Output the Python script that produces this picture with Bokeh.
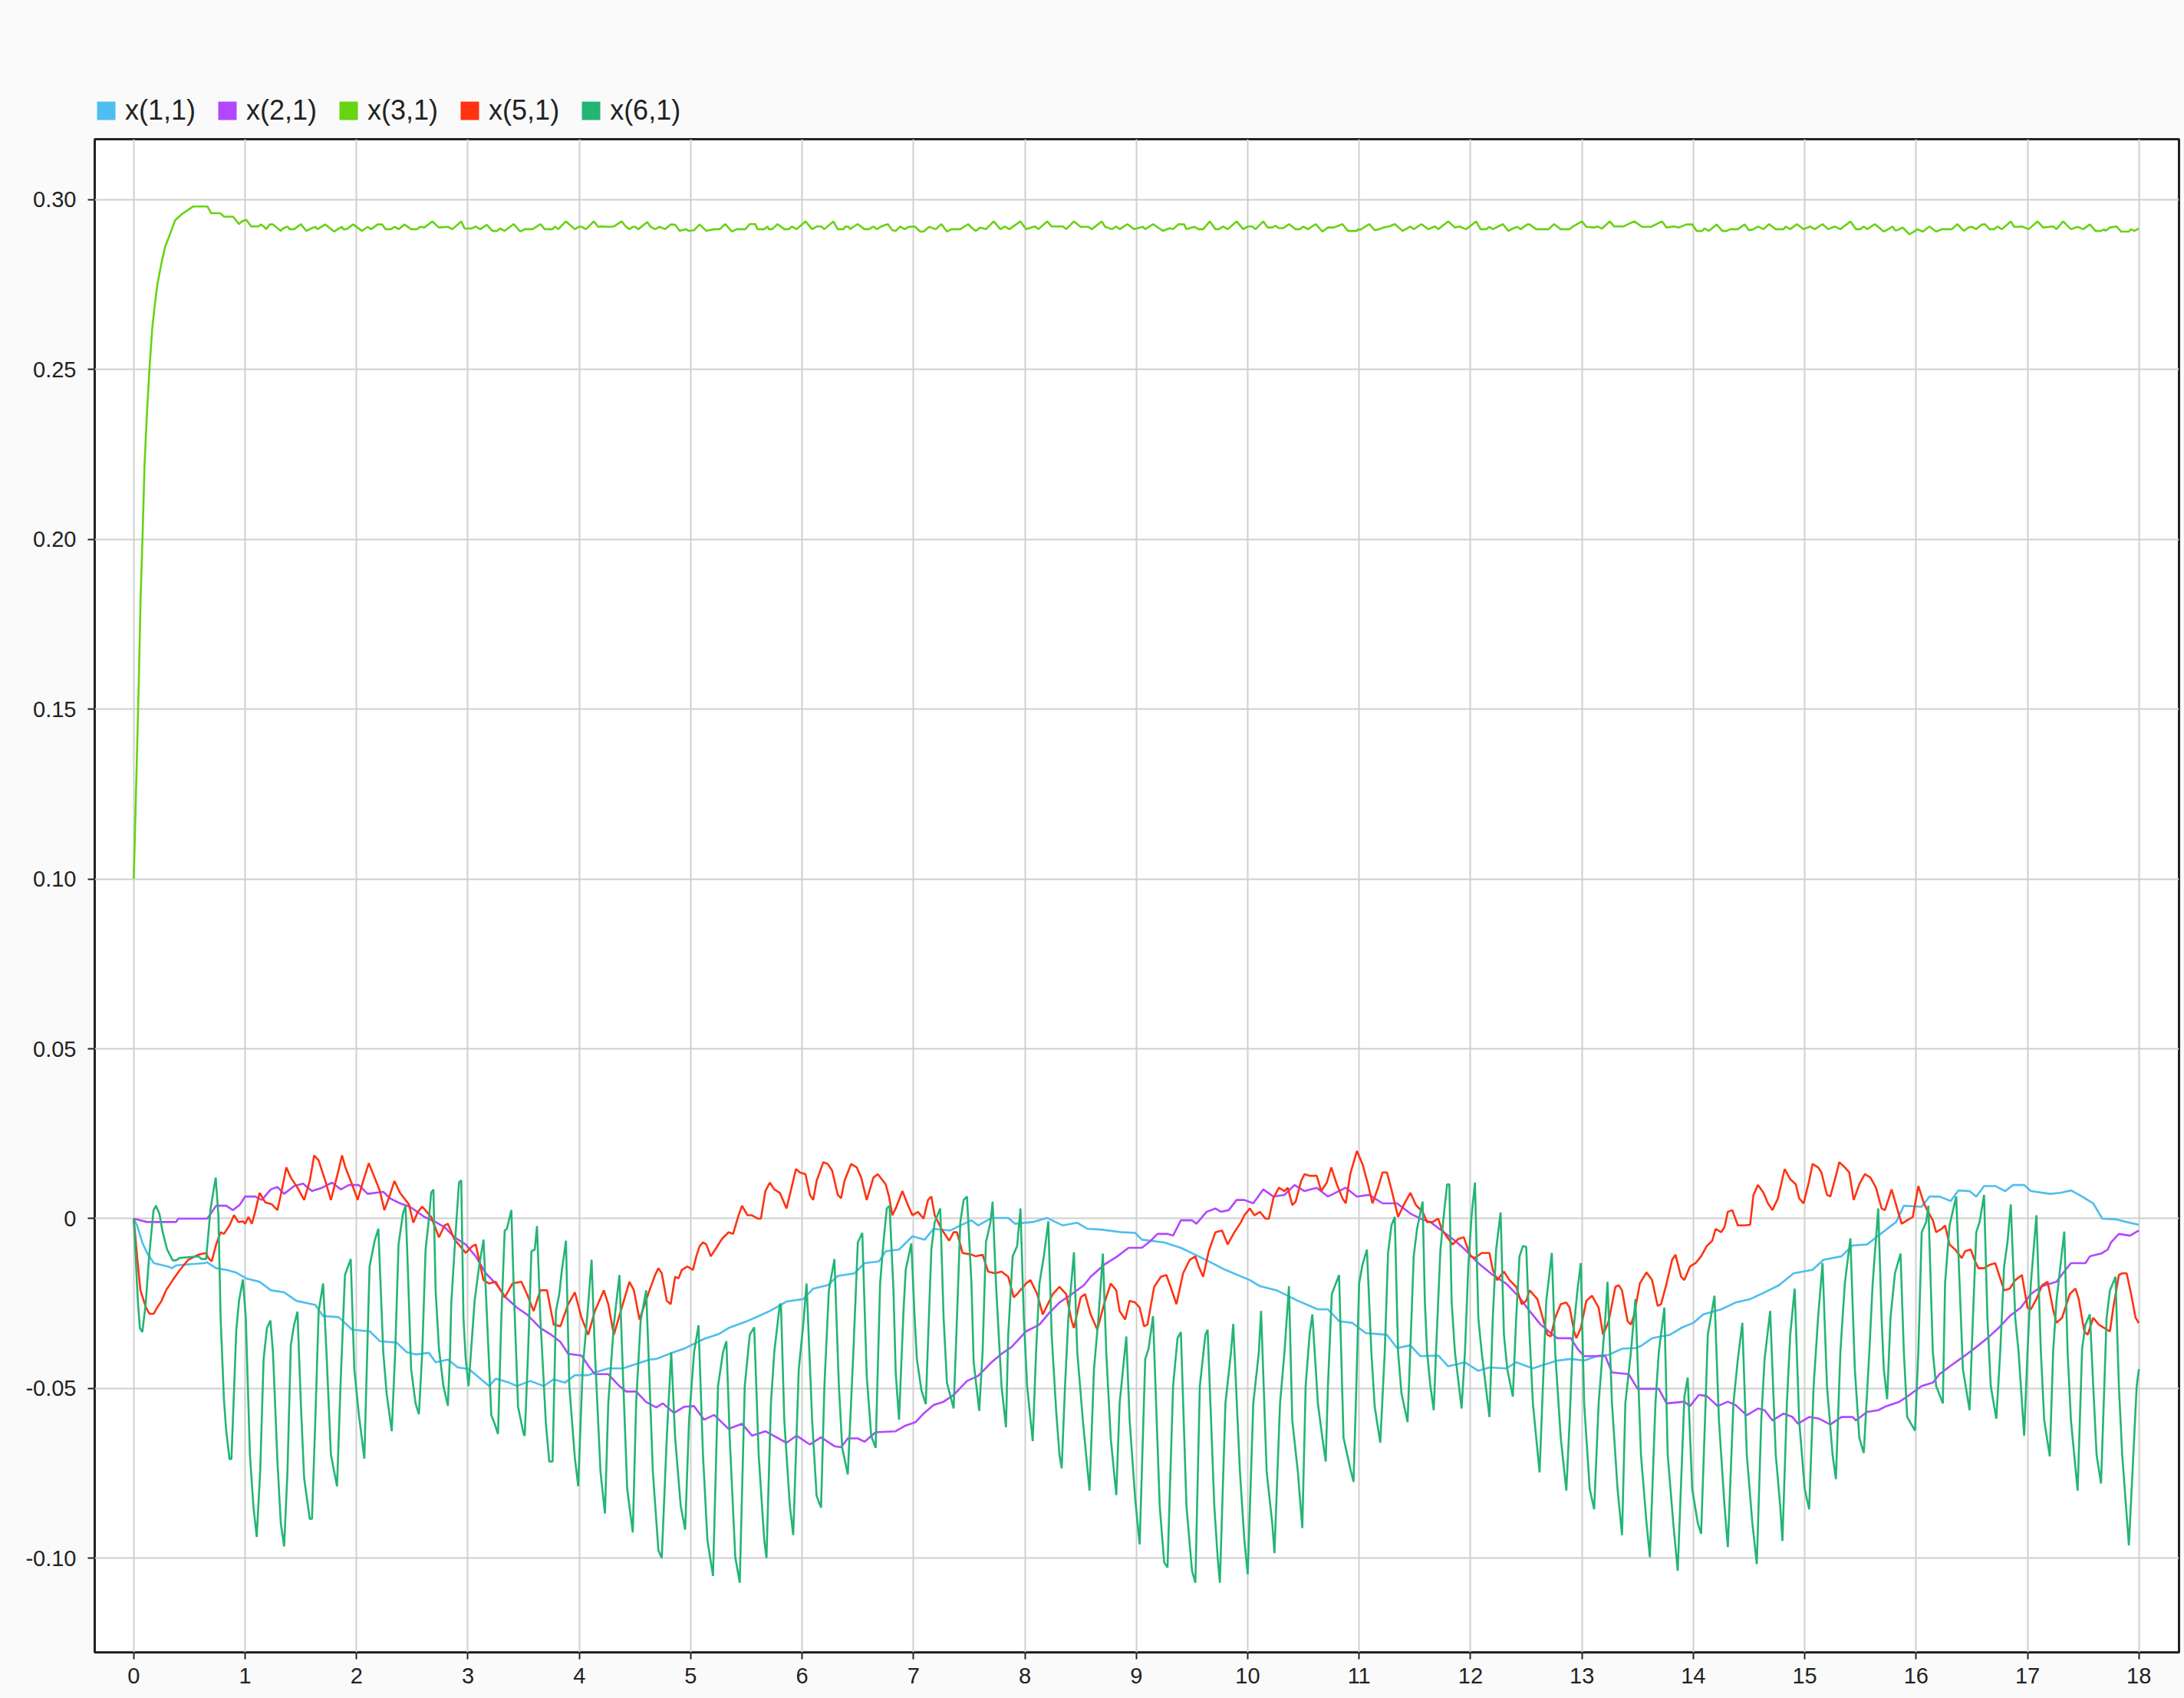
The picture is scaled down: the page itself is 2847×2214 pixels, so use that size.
from bokeh.plotting import figure
from bokeh.layouts import column
from bokeh.models import Range1d, FixedTicker, Legend, LegendItem
from bokeh.embed import file_html
from bokeh.resources import INLINE

series_labels = ["x(1,1)", "x(2,1)", "x(3,1)", "x(5,1)", "x(6,1)"]
x_ticks = list(range(0, 19))
y_ticks = [-0.10, -0.05, 0.0, 0.05, 0.10, 0.15, 0.20, 0.25, 0.30]
y_tick_labels = ["-0.10", "-0.05", "0", "0.05", "0.10", "0.15", "0.20", "0.25", "0.30"]

# (time, value) pairs
x11 = [(0,0),(0.03,-0.002),(0.077,-0.007),(0.12,-0.0101),(0.18,-0.0131),(0.31,-0.0141),(0.34,-0.0146),(0.38,-0.0138),(0.63,-0.0131),(0.66,-0.0129),(0.74,-0.0146),(0.83,-0.0151),(0.92,-0.0159),(1.01,-0.0176),(1.13,-0.0186),(1.23,-0.0211),(1.35,-0.0217),(1.46,-0.0242),(1.63,-0.0254),(1.70,-0.0287),(1.84,-0.029),(1.96,-0.0327),(2.12,-0.0332),(2.21,-0.0361),(2.36,-0.0365),(2.45,-0.0393),(2.53,-0.040),(2.65,-0.0395),(2.71,-0.0423),(2.82,-0.0415),(2.91,-0.0438),(3.01,-0.0443),(3.10,-0.0468),(3.19,-0.0493),(3.25,-0.0471),(3.37,-0.0483),(3.44,-0.0493),(3.56,-0.0478),(3.68,-0.0493),(3.77,-0.0473),(3.87,-0.0483),(3.96,-0.0461),(4.08,-0.0461),(4.14,-0.0453),(4.26,-0.0441),(4.39,-0.0441),(4.51,-0.0428),(4.63,-0.0415),(4.69,-0.0413),(4.85,-0.0393),(4.94,-0.0383),(5.12,-0.0354),(5.25,-0.034),(5.34,-0.0322),(5.49,-0.0304),(5.61,-0.0287),(5.71,-0.0272),(5.86,-0.0244),(6.01,-0.0237),(6.10,-0.0206),(6.23,-0.0196),(6.32,-0.0169),(6.47,-0.0161),(6.56,-0.0131),(6.69,-0.0126),(6.75,-0.0096),(6.87,-0.0091),(6.99,-0.0052),(7.10,-0.0062),(7.18,-0.003),(7.33,-0.0035),(7.42,-0.002),(7.52,-0.0005),(7.58,-0.002),(7.70,0.0002),(7.85,0.0002),(7.91,-0.0015),(8.07,-0.001),(8.20,0.0002),(8.34,-0.002),(8.47,-0.0012),(8.56,-0.003),(8.68,-0.0032),(8.87,-0.004),(8.99,-0.0042),(9.05,-0.0062),(9.25,-0.007),(9.40,-0.0086),(9.56,-0.0111),(9.71,-0.0136),(9.80,-0.0151),(10.02,-0.0181),(10.11,-0.0199),(10.26,-0.0211),(10.45,-0.0242),(10.63,-0.0267),(10.72,-0.0267),(10.82,-0.0302),(10.94,-0.0307),(11.06,-0.0337),(11.25,-0.0342),(11.34,-0.0381),(11.46,-0.0373),(11.55,-0.0405),(11.71,-0.0403),(11.80,-0.0435),(11.95,-0.0423),(12.07,-0.0448),(12.17,-0.0438),(12.32,-0.0441),(12.41,-0.0423),(12.56,-0.0441),(12.63,-0.0433),(12.78,-0.0418),(12.90,-0.0413),(13.02,-0.0418),(13.15,-0.0403),(13.24,-0.0401),(13.36,-0.0383),(13.48,-0.0381),(13.53,-0.0375),(13.63,-0.0352),(13.79,-0.0342),(13.89,-0.0322),(14.0,-0.0307),(14.09,-0.0282),(14.25,-0.0267),(14.38,-0.0247),(14.51,-0.0237),(14.64,-0.0217),(14.77,-0.0196),(14.90,-0.0161),(15.07,-0.0151),(15.17,-0.0121),(15.33,-0.0111),(15.43,-0.0079),(15.56,-0.0076),(15.72,-0.0035),(15.82,-0.001),(15.89,0.0038),(16.05,0.0035),(16.12,0.0065),(16.21,0.0065),(16.31,0.0052),(16.38,0.0083),(16.48,0.0081),(16.54,0.0065),(16.61,0.0096),(16.71,0.0096),(16.80,0.0081),(16.87,0.0099),(16.97,0.0099),(17.03,0.0081),(17.20,0.0073),(17.30,0.0076),(17.39,0.0083),(17.49,0.0065),(17.59,0.0045),(17.67,0.0),(17.79,-0.0002),(17.89,-0.001),(18.0,-0.0018)]

x21 = [(0,0),(0.12,-0.001),(0.38,-0.001),(0.40,0),(0.66,0),(0.74,0.0038),(0.83,0.0038),(0.89,0.0025),(0.95,0.004),(1.0,0.0065),(1.09,0.0065),(1.15,0.0055),(1.23,0.0086),(1.29,0.0093),(1.35,0.0073),(1.44,0.0096),(1.52,0.0103),(1.60,0.0081),(1.69,0.0091),(1.78,0.0106),(1.86,0.0086),(1.93,0.0099),(2.02,0.0099),(2.10,0.0073),(2.24,0.0079),(2.30,0.006),(2.39,0.0045),(2.48,0.0035),(2.61,0.0005),(2.71,-0.001),(2.79,-0.0025),(2.88,-0.0055),(2.98,-0.0076),(3.07,-0.0111),(3.16,-0.0161),(3.25,-0.0191),(3.34,-0.0232),(3.44,-0.0262),(3.53,-0.0282),(3.65,-0.0322),(3.74,-0.034),(3.83,-0.0363),(3.90,-0.0398),(4.02,-0.0403),(4.08,-0.0433),(4.14,-0.0458),(4.26,-0.0458),(4.36,-0.0493),(4.42,-0.0509),(4.51,-0.0509),(4.60,-0.054),(4.69,-0.0556),(4.75,-0.0544),(4.85,-0.0572),(4.94,-0.0554),(5.03,-0.0552),(5.12,-0.0592),(5.21,-0.0578),(5.34,-0.0619),(5.46,-0.0604),(5.55,-0.0639),(5.67,-0.0626),(5.86,-0.066),(5.95,-0.0639),(6.07,-0.0665),(6.17,-0.0644),(6.29,-0.067),(6.35,-0.0673),(6.41,-0.0647),(6.50,-0.0647),(6.56,-0.0657),(6.66,-0.0629),(6.84,-0.0626),(6.93,-0.0609),(7.02,-0.0599),(7.09,-0.0574),(7.18,-0.0549),(7.27,-0.0539),(7.36,-0.0519),(7.48,-0.0478),(7.58,-0.0463),(7.70,-0.0423),(7.79,-0.0398),(7.88,-0.0378),(8.01,-0.0332),(8.13,-0.0312),(8.22,-0.0277),(8.31,-0.0247),(8.40,-0.0227),(8.53,-0.0196),(8.59,-0.0171),(8.71,-0.0136),(8.83,-0.0111),(8.93,-0.0086),(9.05,-0.0086),(9.13,-0.0065),(9.19,-0.0045),(9.28,-0.0045),(9.33,-0.005),(9.40,-0.0005),(9.50,-0.0005),(9.54,-0.0015),(9.63,0.002),(9.71,0.003),(9.76,0.002),(9.83,0.0025),(9.90,0.0055),(9.97,0.0055),(10.05,0.0045),(10.14,0.0086),(10.23,0.0065),(10.33,0.007),(10.42,0.0099),(10.51,0.0081),(10.62,0.0091),(10.72,0.0065),(10.88,0.0091),(10.98,0.0065),(11.09,0.007),(11.21,0.0045),(11.34,0.0045),(11.46,0.0015),(11.55,0),(11.64,-0.001),(11.74,-0.0035),(11.86,-0.0065),(11.95,-0.0091),(12.07,-0.0131),(12.20,-0.0166),(12.32,-0.0191),(12.44,-0.0232),(12.53,-0.0272),(12.63,-0.0312),(12.72,-0.0337),(12.78,-0.0352),(12.90,-0.0352),(12.96,-0.0383),(13.02,-0.0405),(13.21,-0.0405),(13.27,-0.0453),(13.42,-0.0458),(13.50,-0.0501),(13.69,-0.0501),(13.76,-0.0544),(13.92,-0.0539),(13.97,-0.0552),(14.05,-0.0519),(14.12,-0.0522),(14.22,-0.0552),(14.31,-0.0539),(14.38,-0.0549),(14.48,-0.0579),(14.58,-0.0559),(14.64,-0.0564),(14.71,-0.0594),(14.81,-0.0574),(14.89,-0.0584),(14.94,-0.0604),(15.04,-0.0584),(15.13,-0.0589),(15.23,-0.0606),(15.33,-0.0584),(15.43,-0.0584),(15.46,-0.0594),(15.56,-0.0569),(15.66,-0.0564),(15.72,-0.0554),(15.85,-0.0539),(15.92,-0.0524),(16.05,-0.0493),(16.15,-0.0483),(16.21,-0.0458),(16.31,-0.0433),(16.44,-0.0403),(16.54,-0.0378),(16.64,-0.0352),(16.74,-0.0322),(16.84,-0.0287),(16.94,-0.0262),(17.03,-0.0222),(17.13,-0.0199),(17.26,-0.0186),(17.33,-0.0156),(17.39,-0.0131),(17.52,-0.0131),(17.56,-0.0111),(17.66,-0.0103),(17.72,-0.0091),(17.75,-0.007),(17.82,-0.0045),(17.92,-0.005),(18.0,-0.0035)]

x31 = [(0,0.100),(0.009,0.111),(0.028,0.135),(0.046,0.159),(0.062,0.183),(0.081,0.203),(0.097,0.222),(0.120,0.238),(0.143,0.251),(0.166,0.262),(0.189,0.269),(0.212,0.275),(0.247,0.281),(0.281,0.286),(0.327,0.290),(0.373,0.294),(0.442,0.296),(0.535,0.298),(0.604,0.298),(0.661,0.298),(0.696,0.296),(0.776,0.296),(0.811,0.295),(0.892,0.295),(0.945,0.2928),(0.97,0.2936),(1.01,0.2941),(1.055,0.2921),(1.12,0.2921),(1.14,0.2927),(1.17,0.292),(1.19,0.2913),(1.22,0.2927),(1.25,0.2927),(1.32,0.2908),(1.34,0.2915),(1.38,0.2921),(1.40,0.2913),(1.44,0.2913),(1.50,0.2928),(1.55,0.2908),(1.59,0.2915),(1.63,0.292),(1.65,0.2913),(1.72,0.2927),(1.80,0.2906),(1.83,0.2913),(1.87,0.292),(1.88,0.2913),(1.91,0.2913),(1.97,0.2927),(2.05,0.2908),(2.10,0.292),(2.13,0.2913),(2.19,0.2927),(2.23,0.2927),(2.26,0.2913),(2.31,0.2913),(2.34,0.292),(2.38,0.2913),(2.43,0.2927),(2.49,0.2913),(2.545,0.2913),(2.57,0.292),(2.61,0.2918),(2.68,0.2936),(2.74,0.2918),(2.82,0.292),(2.86,0.2913),(2.94,0.2936),(2.97,0.2915),(3.03,0.2915),(3.07,0.2921),(3.11,0.2913),(3.17,0.2926),(3.22,0.2908),(3.26,0.2908),(3.29,0.2915),(3.33,0.2908),(3.41,0.2928),(3.47,0.2906),(3.51,0.2913),(3.58,0.2913),(3.65,0.2928),(3.69,0.2913),(3.76,0.2913),(3.78,0.2921),(3.81,0.2913),(3.88,0.2936),(3.96,0.2913),(4.0,0.2921),(4.02,0.292),(4.06,0.2913),(4.13,0.2936),(4.17,0.292),(4.20,0.2921),(4.27,0.292),(4.31,0.2921),(4.38,0.2936),(4.42,0.292),(4.45,0.2913),(4.48,0.292),(4.50,0.292),(4.53,0.2913),(4.61,0.2934),(4.64,0.292),(4.68,0.2913),(4.72,0.292),(4.77,0.2913),(4.82,0.2927),(4.86,0.2926),(4.90,0.2908),(4.96,0.2913),(4.98,0.2908),(5.03,0.291),(5.08,0.2927),(5.14,0.2908),(5.21,0.2913),(5.26,0.2913),(5.31,0.2928),(5.37,0.2906),(5.41,0.2913),(5.49,0.2913),(5.53,0.2928),(5.58,0.2928),(5.60,0.2913),(5.66,0.2913),(5.69,0.2921),(5.70,0.2913),(5.73,0.2913),(5.78,0.2928),(5.84,0.2913),(5.88,0.2913),(5.91,0.2921),(5.95,0.2913),(6.03,0.2936),(6.09,0.2913),(6.13,0.2921),(6.17,0.2921),(6.20,0.2913),(6.28,0.2936),(6.32,0.2913),(6.37,0.2913),(6.39,0.2921),(6.42,0.292),(6.43,0.2913),(6.46,0.292),(6.50,0.2928),(6.56,0.2913),(6.60,0.2913),(6.64,0.2921),(6.67,0.2913),(6.71,0.2921),(6.77,0.2928),(6.81,0.291),(6.84,0.2908),(6.88,0.2921),(6.92,0.2913),(6.96,0.292),(7.01,0.2921),(7.06,0.2906),(7.09,0.2906),(7.14,0.292),(7.20,0.2913),(7.25,0.2928),(7.30,0.2906),(7.34,0.2913),(7.42,0.2913),(7.49,0.2928),(7.53,0.2915),(7.56,0.2908),(7.60,0.2918),(7.65,0.2913),(7.72,0.2936),(7.78,0.2913),(7.82,0.2921),(7.86,0.2913),(7.96,0.2936),(8.01,0.2913),(8.09,0.2921),(8.12,0.2913),(8.20,0.2936),(8.24,0.2921),(8.34,0.2921),(8.37,0.2913),(8.44,0.2936),(8.50,0.292),(8.57,0.292),(8.60,0.2913),(8.69,0.2936),(8.72,0.292),(8.78,0.2913),(8.82,0.2921),(8.85,0.2913),(8.92,0.2928),(8.98,0.2913),(9.06,0.292),(9.08,0.2913),(9.15,0.2928),(9.24,0.2908),(9.30,0.2916),(9.33,0.2913),(9.38,0.2928),(9.43,0.2927),(9.45,0.2913),(9.52,0.292),(9.56,0.2913),(9.60,0.2913),(9.66,0.2936),(9.71,0.2913),(9.74,0.2913),(9.78,0.2921),(9.82,0.2913),(9.90,0.2936),(9.96,0.2913),(10.0,0.2921),(10.04,0.2921),(10.07,0.2913),(10.14,0.2936),(10.18,0.2918),(10.22,0.2918),(10.25,0.2923),(10.28,0.2916),(10.32,0.2916),(10.37,0.2928),(10.43,0.2913),(10.47,0.2913),(10.50,0.2921),(10.54,0.2913),(10.61,0.2928),(10.67,0.2906),(10.72,0.2918),(10.77,0.2918),(10.80,0.2921),(10.85,0.2928),(10.90,0.2908),(10.98,0.2908),(10.99,0.2913),(11.01,0.2911),(11.09,0.2928),(11.14,0.291),(11.18,0.2913),(11.22,0.2918),(11.27,0.2921),(11.32,0.2928),(11.39,0.2908),(11.46,0.2921),(11.49,0.2913),(11.56,0.2928),(11.62,0.2913),(11.68,0.2921),(11.71,0.2913),(11.80,0.2936),(11.86,0.2918),(11.90,0.2921),(11.96,0.2913),(12.05,0.2936),(12.09,0.2913),(12.14,0.2913),(12.17,0.292),(12.20,0.2913),(12.29,0.2928),(12.34,0.2908),(12.38,0.2915),(12.42,0.292),(12.45,0.2913),(12.51,0.2927),(12.53,0.2927),(12.59,0.2913),(12.70,0.2913),(12.75,0.2928),(12.81,0.2913),(12.89,0.2913),(12.92,0.2921),(13.0,0.2936),(13.04,0.292),(13.11,0.2918),(13.14,0.2921),(13.18,0.2915),(13.25,0.2936),(13.29,0.2921),(13.37,0.2921),(13.47,0.2936),(13.54,0.292),(13.62,0.292),(13.72,0.2936),(13.76,0.2918),(13.83,0.2921),(13.87,0.2918),(13.94,0.2927),(13.99,0.2927),(14.03,0.2908),(14.08,0.2908),(14.10,0.2915),(14.14,0.2908),(14.21,0.2927),(14.26,0.2908),(14.30,0.2908),(14.33,0.2913),(14.40,0.2913),(14.46,0.2927),(14.50,0.291),(14.54,0.2913),(14.58,0.2921),(14.63,0.2913),(14.68,0.2928),(14.74,0.2913),(14.81,0.2913),(14.83,0.2921),(14.87,0.2913),(14.93,0.2928),(14.99,0.2913),(15.05,0.2921),(15.09,0.2913),(15.16,0.2928),(15.21,0.2913),(15.27,0.2921),(15.32,0.2913),(15.41,0.2936),(15.46,0.2913),(15.50,0.2913),(15.53,0.2921),(15.56,0.2913),(15.63,0.2928),(15.71,0.2906),(15.75,0.2913),(15.79,0.2921),(15.81,0.291),(15.83,0.291),(15.88,0.2918),(15.90,0.2911),(15.94,0.2898),(15.99,0.2908),(16.01,0.2913),(16.06,0.2906),(16.12,0.2921),(16.18,0.2906),(16.23,0.2913),(16.32,0.2913),(16.37,0.2928),(16.43,0.2908),(16.47,0.2918),(16.50,0.292),(16.54,0.2913),(16.59,0.2927),(16.62,0.2927),(16.66,0.2913),(16.70,0.2913),(16.73,0.2921),(16.77,0.2913),(16.85,0.2936),(16.88,0.292),(16.92,0.292),(16.95,0.2921),(17.01,0.2913),(17.09,0.2936),(17.14,0.2918),(17.23,0.2921),(17.26,0.2913),(17.32,0.2936),(17.39,0.2913),(17.45,0.292),(17.50,0.2913),(17.56,0.2927),(17.61,0.2908),(17.66,0.2908),(17.69,0.2913),(17.70,0.2908),(17.74,0.2918),(17.80,0.2921),(17.84,0.2906),(17.91,0.2906),(17.93,0.2913),(17.96,0.2908),(18.0,0.2915)]

x51 = [(0,0),(0.03,-0.0111),(0.06,-0.0211),(0.11,-0.0262),(0.14,-0.028),(0.18,-0.028),(0.21,-0.0262),(0.25,-0.0242),(0.29,-0.0211),(0.35,-0.0181),(0.41,-0.0153),(0.49,-0.0121),(0.58,-0.0106),(0.65,-0.0101),(0.67,-0.0116),(0.70,-0.0126),(0.74,-0.0076),(0.78,-0.004),(0.81,-0.0045),(0.86,-0.002),(0.90,0.001),(0.94,-0.001),(0.98,-0.0008),(1.0,-0.0015),(1.03,0.0005),(1.06,-0.0015),(1.09,0.002),(1.13,0.0076),(1.18,0.0048),(1.24,0.0042),(1.29,0.0025),(1.32,0.007),(1.37,0.0151),(1.41,0.0121),(1.47,0.0091),(1.53,0.0055),(1.58,0.0111),(1.62,0.0186),(1.66,0.0171),(1.72,0.0111),(1.77,0.0055),(1.83,0.0131),(1.87,0.0186),(1.90,0.0151),(1.96,0.0101),(2.01,0.0055),(2.06,0.0111),(2.11,0.0163),(2.15,0.0131),(2.21,0.0081),(2.25,0.0025),(2.30,0.007),(2.34,0.0111),(2.39,0.0076),(2.47,0.0042),(2.51,-0.0012),(2.55,0.002),(2.59,0.0035),(2.67,0.0005),(2.74,-0.0055),(2.79,-0.002),(2.82,-0.0015),(2.88,-0.0062),(2.91,-0.0073),(2.98,-0.0101),(3.04,-0.0081),(3.07,-0.0076),(3.14,-0.0181),(3.19,-0.0191),(3.25,-0.0186),(3.33,-0.0232),(3.40,-0.0191),(3.48,-0.0186),(3.53,-0.0222),(3.59,-0.0272),(3.65,-0.0211),(3.71,-0.0211),(3.77,-0.0312),(3.83,-0.0317),(3.90,-0.0252),(3.96,-0.0217),(4.02,-0.0292),(4.08,-0.0342),(4.14,-0.0272),(4.22,-0.0211),(4.26,-0.0252),(4.31,-0.0342),(4.39,-0.0252),(4.45,-0.0186),(4.49,-0.0211),(4.54,-0.0297),(4.63,-0.0211),(4.68,-0.0166),(4.71,-0.0146),(4.74,-0.0161),(4.785,-0.0242),(4.82,-0.0252),(4.86,-0.0171),(4.89,-0.0176),(4.92,-0.0151),(4.97,-0.0141),(5.02,-0.0151),(5.05,-0.0111),(5.08,-0.0081),(5.11,-0.007),(5.14,-0.0076),(5.18,-0.0111),(5.23,-0.0086),(5.28,-0.006),(5.34,-0.004),(5.38,-0.0045),(5.43,0.001),(5.46,0.0038),(5.51,0.001),(5.55,0.001),(5.60,0),(5.63,0),(5.67,0.0081),(5.71,0.0106),(5.75,0.0086),(5.80,0.0076),(5.86,0.003),(5.905,0.0091),(5.945,0.0146),(5.98,0.0136),(6.03,0.0131),(6.07,0.007),(6.10,0.0055),(6.13,0.0111),(6.19,0.0166),(6.23,0.0161),(6.27,0.0141),(6.32,0.007),(6.35,0.006),(6.38,0.0111),(6.44,0.0161),(6.49,0.0151),(6.53,0.0121),(6.58,0.0055),(6.64,0.0121),(6.68,0.0131),(6.75,0.0101),(6.78,0.0065),(6.81,0.001),(6.84,0.003),(6.90,0.0081),(6.95,0.004),(6.99,0.001),(7.04,0.002),(7.09,0),(7.13,0.0055),(7.16,0.0065),(7.19,0.001),(7.25,-0.003),(7.32,-0.0065),(7.36,-0.004),(7.39,-0.004),(7.44,-0.0101),(7.52,-0.0106),(7.56,-0.0111),(7.62,-0.0106),(7.67,-0.0156),(7.73,-0.0161),(7.79,-0.0156),(7.85,-0.0171),(7.90,-0.0232),(7.93,-0.0222),(8.01,-0.0191),(8.05,-0.0181),(8.11,-0.0222),(8.16,-0.0282),(8.25,-0.0222),(8.31,-0.0201),(8.37,-0.0222),(8.42,-0.0302),(8.44,-0.0322),(8.50,-0.0232),(8.54,-0.0222),(8.59,-0.0282),(8.65,-0.0327),(8.71,-0.0252),(8.77,-0.0191),(8.82,-0.0211),(8.85,-0.0272),(8.90,-0.0297),(8.94,-0.0242),(8.99,-0.0247),(9.03,-0.0262),(9.07,-0.0317),(9.10,-0.0312),(9.16,-0.0201),(9.22,-0.0171),(9.27,-0.0166),(9.33,-0.0222),(9.36,-0.0252),(9.42,-0.0161),(9.48,-0.0121),(9.53,-0.0111),(9.56,-0.0141),(9.60,-0.0171),(9.65,-0.0096),(9.71,-0.004),(9.77,-0.0035),(9.82,-0.0076),(9.88,-0.004),(9.94,-0.001),(9.97,0.001),(10.02,0.003),(10.06,0.001),(10.11,0.002),(10.16,0),(10.19,0),(10.23,0.006),(10.28,0.0091),(10.33,0.0081),(10.36,0.0091),(10.40,0.004),(10.43,0.005),(10.48,0.0111),(10.51,0.0131),(10.56,0.0126),(10.62,0.0126),(10.66,0.0081),(10.71,0.0106),(10.75,0.0151),(10.80,0.0101),(10.85,0.006),(10.88,0.0045),(10.92,0.0131),(10.98,0.0199),(11.03,0.0161),(11.08,0.0101),(11.12,0.0045),(11.17,0.0091),(11.21,0.0136),(11.25,0.0136),(11.29,0.0086),(11.35,0.0005),(11.40,0.004),(11.46,0.0076),(11.51,0.004),(11.57,0.002),(11.61,-0.001),(11.66,-0.001),(11.71,0),(11.74,-0.003),(11.78,-0.005),(11.84,-0.0076),(11.89,-0.006),(11.94,-0.0055),(12.0,-0.0111),(12.04,-0.0116),(12.10,-0.0101),(12.17,-0.0101),(12.20,-0.0151),(12.24,-0.0181),(12.30,-0.0156),(12.35,-0.0181),(12.41,-0.0201),(12.46,-0.0252),(12.50,-0.0242),(12.53,-0.0211),(12.60,-0.0237),(12.64,-0.0282),(12.69,-0.0342),(12.72,-0.0347),(12.76,-0.0292),(12.81,-0.0252),(12.86,-0.0247),(12.89,-0.0262),(12.93,-0.0332),(12.95,-0.0352),(12.99,-0.0322),(13.04,-0.0242),(13.09,-0.0227),(13.15,-0.0262),(13.19,-0.0342),(13.24,-0.0302),(13.30,-0.0201),(13.33,-0.0196),(13.36,-0.0211),(13.41,-0.0302),(13.44,-0.0312),(13.47,-0.0282),(13.52,-0.0191),(13.58,-0.0158),(13.63,-0.0181),(13.68,-0.0257),(13.71,-0.0252),(13.76,-0.0191),(13.81,-0.0121),(13.84,-0.0106),(13.89,-0.0171),(13.92,-0.0181),(13.97,-0.0141),(14.02,-0.0131),(14.07,-0.0111),(14.12,-0.0081),(14.17,-0.0065),(14.20,-0.003),(14.25,-0.004),(14.28,-0.0025),(14.31,0.002),(14.35,0.0025),(14.40,-0.002),(14.46,-0.002),(14.51,-0.0018),(14.54,0.007),(14.58,0.0099),(14.63,0.0076),(14.67,0.0045),(14.71,0.0025),(14.76,0.006),(14.82,0.0146),(14.87,0.0116),(14.92,0.0101),(14.95,0.006),(14.99,0.0045),(15.04,0.0111),(15.07,0.0161),(15.12,0.0151),(15.15,0.0136),(15.20,0.007),(15.23,0.0065),(15.28,0.0126),(15.31,0.0166),(15.36,0.0151),(15.40,0.0136),(15.44,0.0055),(15.49,0.0101),(15.54,0.0131),(15.59,0.0121),(15.64,0.0091),(15.69,0.003),(15.72,0.0025),(15.78,0.0086),(15.87,-0.0015),(15.92,-0.0005),(15.97,0.0005),(16.02,0.0096),(16.07,0.0045),(16.10,0.0025),(16.15,-0.0005),(16.18,-0.004),(16.23,-0.003),(16.26,-0.002),(16.30,-0.0076),(16.35,-0.0091),(16.41,-0.0116),(16.44,-0.0096),(16.49,-0.0091),(16.53,-0.0126),(16.56,-0.0146),(16.61,-0.0146),(16.66,-0.0136),(16.71,-0.0131),(16.74,-0.0161),(16.79,-0.0211),(16.84,-0.0206),(16.89,-0.0181),(16.95,-0.0166),(17.0,-0.0262),(17.03,-0.0267),(17.08,-0.0237),(17.13,-0.0196),(17.18,-0.0186),(17.23,-0.0267),(17.26,-0.0307),(17.31,-0.0292),(17.38,-0.0222),(17.43,-0.0206),(17.46,-0.0237),(17.51,-0.0332),(17.54,-0.0342),(17.59,-0.0292),(17.64,-0.0312),(17.69,-0.0322),(17.74,-0.0332),(17.77,-0.0262),(17.82,-0.0166),(17.85,-0.0161),(17.89,-0.0161),(17.93,-0.0222),(17.97,-0.0292),(18.0,-0.0307)]

x61 = [(0,0),(0.037,-0.0242),(0.055,-0.0322),(0.077,-0.0334),(0.107,-0.0252),(0.138,-0.0111),(0.178,0.0025),(0.199,0.0038),(0.23,0.0015),(0.26,-0.004),(0.30,-0.0091),(0.35,-0.0123),(0.38,-0.0123),(0.41,-0.0116),(0.58,-0.0111),(0.61,-0.0119),(0.65,-0.0119),(0.69,0.003),(0.71,0.007),(0.736,0.0121),(0.76,0.001),(0.78,-0.0292),(0.81,-0.0534),(0.83,-0.0624),(0.86,-0.0708),(0.877,-0.0708),(0.896,-0.0544),(0.92,-0.0332),(0.945,-0.0242),(0.98,-0.0179),(1.006,-0.0292),(1.043,-0.0695),(1.074,-0.0846),(1.104,-0.0937),(1.135,-0.0745),(1.166,-0.0413),(1.196,-0.0322),(1.227,-0.030),(1.25,-0.0393),(1.29,-0.0715),(1.32,-0.0896),(1.35,-0.0965),(1.38,-0.0745),(1.41,-0.0373),(1.44,-0.0312),(1.47,-0.0274),(1.50,-0.0544),(1.53,-0.0765),(1.58,-0.0884),(1.60,-0.0884),(1.63,-0.0594),(1.66,-0.0272),(1.68,-0.0232),(1.70,-0.0191),(1.73,-0.0393),(1.77,-0.0695),(1.825,-0.0788),(1.856,-0.0493),(1.896,-0.0166),(1.948,-0.0119),(1.98,-0.0443),(2.02,-0.0574),(2.07,-0.0707),(2.117,-0.0141),(2.163,-0.0065),(2.196,-0.003),(2.24,-0.0393),(2.27,-0.0514),(2.316,-0.0626),(2.347,-0.0393),(2.377,-0.0076),(2.417,0.0015),(2.44,0.0038),(2.46,-0.0141),(2.49,-0.0443),(2.53,-0.0544),(2.56,-0.0576),(2.59,-0.0393),(2.62,-0.0091),(2.65,0),(2.67,0.0076),(2.69,0.0086),(2.71,-0.0211),(2.74,-0.0383),(2.78,-0.0493),(2.82,-0.0551),(2.84,-0.0393),(2.85,-0.0252),(2.88,-0.0091),(2.90,0.001),(2.92,0.0106),(2.94,0.0113),(2.96,-0.0292),(2.98,-0.0413),(3.006,-0.0493),(3.06,-0.0242),(3.10,-0.0141),(3.14,-0.0062),(3.17,-0.0282),(3.21,-0.0579),(3.24,-0.0604),(3.27,-0.0634),(3.30,-0.0292),(3.33,-0.0035),(3.35,-0.003),(3.39,0.0025),(3.41,-0.0191),(3.45,-0.0554),(3.50,-0.0634),(3.51,-0.0639),(3.54,-0.0393),(3.57,-0.0096),(3.60,-0.0091),(3.62,-0.0022),(3.65,-0.0292),(3.70,-0.0604),(3.73,-0.0715),(3.76,-0.0715),(3.79,-0.0272),(3.82,-0.0222),(3.84,-0.0161),(3.88,-0.0065),(3.91,-0.0493),(3.96,-0.0705),(3.99,-0.0788),(4.03,-0.0443),(4.08,-0.0252),(4.11,-0.0121),(4.14,-0.0393),(4.19,-0.0745),(4.23,-0.0868),(4.26,-0.0544),(4.31,-0.0312),(4.36,-0.0166),(4.39,-0.0443),(4.43,-0.0796),(4.48,-0.0924),(4.51,-0.0544),(4.55,-0.0302),(4.60,-0.0211),(4.66,-0.0745),(4.71,-0.0977),(4.74,-0.0999),(4.785,-0.0645),(4.825,-0.0393),(4.86,-0.0645),(4.91,-0.0846),(4.95,-0.0916),(4.985,-0.0594),(5.03,-0.0393),(5.07,-0.0314),(5.11,-0.0695),(5.15,-0.0947),(5.20,-0.1052),(5.245,-0.0493),(5.29,-0.0393),(5.32,-0.0361),(5.35,-0.0645),(5.40,-0.0997),(5.44,-0.1072),(5.485,-0.0493),(5.53,-0.0342),(5.57,-0.032),(5.61,-0.0695),(5.66,-0.0947),(5.68,-0.0999),(5.72,-0.0544),(5.75,-0.0393),(5.80,-0.0252),(5.81,-0.0252),(5.84,-0.0594),(5.89,-0.0846),(5.92,-0.0932),(5.97,-0.0443),(6.01,-0.0312),(6.04,-0.0191),(6.09,-0.0594),(6.13,-0.0816),(6.17,-0.0851),(6.20,-0.0493),(6.24,-0.0211),(6.29,-0.0119),(6.33,-0.0493),(6.36,-0.0675),(6.41,-0.0753),(6.46,-0.0393),(6.50,-0.007),(6.54,-0.0042),(6.58,-0.0463),(6.62,-0.0639),(6.66,-0.0675),(6.70,-0.0191),(6.73,-0.007),(6.76,0.003),(6.785,0.0038),(6.82,-0.0211),(6.84,-0.0453),(6.87,-0.0592),(6.91,-0.0272),(6.93,-0.0151),(6.98,-0.0073),(7.01,-0.0292),(7.03,-0.0413),(7.07,-0.0504),(7.11,-0.0546),(7.16,-0.0091),(7.19,-0.001),(7.24,0.003),(7.27,-0.0292),(7.30,-0.0483),(7.36,-0.0559),(7.39,-0.0292),(7.42,-0.001),(7.45,0.0055),(7.48,0.0065),(7.52,-0.0191),(7.54,-0.0423),(7.59,-0.0566),(7.62,-0.0393),(7.65,-0.007),(7.69,-0.0012),(7.71,0.005),(7.74,-0.0191),(7.79,-0.0493),(7.83,-0.0614),(7.85,-0.0342),(7.89,-0.0111),(7.93,-0.0081),(7.96,0.003),(7.99,-0.0292),(8.02,-0.0493),(8.07,-0.0655),(8.10,-0.0393),(8.13,-0.0191),(8.17,-0.0111),(8.21,-0.0008),(8.24,-0.0342),(8.28,-0.0564),(8.31,-0.0695),(8.33,-0.0735),(8.36,-0.0493),(8.39,-0.0292),(8.44,-0.0099),(8.47,-0.0393),(8.52,-0.0594),(8.58,-0.0801),(8.62,-0.0443),(8.66,-0.0292),(8.70,-0.0103),(8.73,-0.0393),(8.77,-0.0645),(8.82,-0.0814),(8.85,-0.0544),(8.91,-0.0347),(8.94,-0.0594),(8.99,-0.0826),(9.03,-0.0959),(9.08,-0.0413),(9.11,-0.0383),(9.15,-0.0287),(9.21,-0.0846),(9.25,-0.1012),(9.28,-0.1027),(9.33,-0.0493),(9.37,-0.0352),(9.40,-0.0334),(9.45,-0.0846),(9.50,-0.1037),(9.53,-0.1072),(9.57,-0.0493),(9.62,-0.0342),(9.64,-0.0327),(9.70,-0.0846),(9.73,-0.0997),(9.75,-0.1072),(9.80,-0.0544),(9.85,-0.0393),(9.87,-0.031),(9.93,-0.0745),(9.97,-0.0947),(10.0,-0.1047),(10.05,-0.0544),(10.10,-0.0393),(10.12,-0.0272),(10.17,-0.0745),(10.22,-0.0896),(10.24,-0.0985),(10.29,-0.0544),(10.33,-0.0393),(10.37,-0.0199),(10.40,-0.0594),(10.45,-0.0745),(10.49,-0.0911),(10.52,-0.0493),(10.555,-0.0342),(10.58,-0.0282),(10.63,-0.0544),(10.67,-0.0645),(10.70,-0.0715),(10.72,-0.0493),(10.755,-0.0222),(10.82,-0.0166),(10.86,-0.0645),(10.92,-0.0735),(10.95,-0.0775),(10.975,-0.0493),(11.0,-0.0191),(11.03,-0.0136),(11.07,-0.0091),(11.11,-0.0393),(11.14,-0.0554),(11.19,-0.066),(11.23,-0.0393),(11.26,-0.0101),(11.29,-0.002),(11.32,0.0005),(11.35,-0.0393),(11.38,-0.0514),(11.435,-0.0599),(11.47,-0.0292),(11.49,-0.0111),(11.52,-0.003),(11.57,0.005),(11.59,-0.0242),(11.61,-0.0393),(11.64,-0.0493),(11.67,-0.0564),(11.69,-0.0393),(11.73,-0.0091),(11.76,0.001),(11.79,0.0101),(11.81,0.0101),(11.83,-0.0242),(11.86,-0.0393),(11.92,-0.0559),(11.95,-0.0393),(11.98,-0.0141),(12.01,0.001),(12.04,0.0106),(12.07,-0.0292),(12.10,-0.0393),(12.17,-0.0584),(12.20,-0.0292),(12.23,-0.0091),(12.27,0.0018),(12.30,-0.0342),(12.33,-0.0443),(12.38,-0.0524),(12.41,-0.0292),(12.44,-0.0111),(12.47,-0.0081),(12.50,-0.0083),(12.53,-0.0342),(12.56,-0.0544),(12.62,-0.0747),(12.65,-0.0493),(12.68,-0.0242),(12.73,-0.0101),(12.76,-0.0393),(12.81,-0.0645),(12.86,-0.0801),(12.89,-0.0594),(12.92,-0.0342),(12.96,-0.0211),(12.99,-0.0131),(13.02,-0.0544),(13.07,-0.0796),(13.11,-0.0856),(13.15,-0.0544),(13.21,-0.0292),(13.23,-0.0186),(13.27,-0.0544),(13.32,-0.0796),(13.36,-0.0932),(13.39,-0.0544),(13.44,-0.0393),(13.48,-0.0237),(13.53,-0.0695),(13.58,-0.0896),(13.61,-0.0997),(13.66,-0.0544),(13.69,-0.0393),(13.74,-0.0262),(13.77,-0.0695),(13.82,-0.0896),(13.86,-0.1037),(13.90,-0.0695),(13.92,-0.0524),(13.95,-0.0468),(13.99,-0.0796),(14.04,-0.0896),(14.07,-0.0928),(14.11,-0.0544),(14.13,-0.0342),(14.19,-0.0227),(14.23,-0.0594),(14.28,-0.0846),(14.31,-0.0967),(14.36,-0.0544),(14.40,-0.0413),(14.44,-0.0307),(14.48,-0.0695),(14.53,-0.0896),(14.57,-0.1017),(14.61,-0.0594),(14.64,-0.0413),(14.69,-0.0272),(14.74,-0.0695),(14.78,-0.0846),(14.80,-0.0949),(14.84,-0.0544),(14.87,-0.0342),(14.91,-0.0206),(14.95,-0.0594),(15.0,-0.0796),(15.04,-0.0856),(15.08,-0.0493),(15.12,-0.0292),(15.16,-0.0131),(15.20,-0.0493),(15.25,-0.0695),(15.28,-0.0767),(15.32,-0.0393),(15.36,-0.0191),(15.41,-0.0058),(15.45,-0.0443),(15.49,-0.0645),(15.53,-0.069),(15.58,-0.0393),(15.61,-0.0191),(15.66,0.003),(15.69,-0.0292),(15.71,-0.0443),(15.74,-0.0532),(15.77,-0.0292),(15.81,-0.0161),(15.86,-0.0103),(15.89,-0.0393),(15.92,-0.0584),(15.99,-0.0624),(16.02,-0.0393),(16.05,-0.004),(16.09,-0.001),(16.11,0.0038),(16.15,-0.0393),(16.18,-0.0493),(16.24,-0.0544),(16.26,-0.0191),(16.30,-0.002),(16.36,0.0065),(16.39,-0.0191),(16.42,-0.0443),(16.48,-0.0564),(16.51,-0.0292),(16.54,-0.004),(16.57,-0.001),(16.61,0.007),(16.64,-0.0292),(16.67,-0.0493),(16.72,-0.0589),(16.755,-0.0393),(16.79,-0.0141),(16.82,-0.007),(16.85,0.0042),(16.89,-0.0292),(16.92,-0.0393),(16.97,-0.0639),(17.0,-0.0393),(17.03,-0.0191),(17.08,0.001),(17.12,-0.0393),(17.15,-0.0594),(17.20,-0.070),(17.23,-0.0393),(17.26,-0.0242),(17.33,-0.0038),(17.36,-0.0393),(17.39,-0.0594),(17.45,-0.0801),(17.49,-0.0383),(17.52,-0.0312),(17.56,-0.0282),(17.59,-0.0493),(17.62,-0.0695),(17.66,-0.078),(17.71,-0.0292),(17.74,-0.0211),(17.79,-0.0171),(17.82,-0.0493),(17.85,-0.0695),(17.91,-0.0962),(17.95,-0.0695),(17.98,-0.0493),(18.0,-0.0443)]

series_data = [x11, x21, x31, x51, x61]
colors = ["#4DBEEE", "#B247FF", "#66D313", "#FF3311", "#23B574"]

FONT = "Liberation Sans"
INK = "#222222"
PAGE_BG = "#fafafa"

# ---- legend strip (its own small figure above the plot) ----
leg = figure(width=2847, height=179, output_backend="svg", toolbar_location=None,
             x_range=Range1d(0, 1), y_range=Range1d(0, 1),
             min_border_left=123, min_border_right=0, min_border_top=0, min_border_bottom=0)
leg.axis.visible = False
leg.grid.visible = False
leg.outline_line_color = None
leg.background_fill_color = PAGE_BG
leg.border_fill_color = PAGE_BG

items = []
for col, lab in zip(colors, series_labels):
    # swatch glyph parked outside the strip's visible range; only its legend entry shows
    sw = leg.quad(left=[-3], right=[-2], bottom=[-3], top=[-2], fill_color=col, line_color=None)
    items.append(LegendItem(label=lab, renderers=[sw]))

legend = Legend(items=items, orientation="horizontal", location=(0, 14),
                glyph_width=30, glyph_height=30, label_standoff=10, spacing=26,
                padding=0, margin=0, border_line_color=None, background_fill_alpha=0,
                label_text_font=FONT, label_text_font_size="36px", label_text_color=INK)
leg.add_layout(legend)

# ---- main plot ----
p = figure(width=2847, height=2035, output_backend="svg", toolbar_location=None,
           x_range=Range1d(-0.35, 18.36), y_range=Range1d(-0.1277, 0.3178),
           min_border_left=122, min_border_right=7, min_border_top=2, min_border_bottom=60)
p.background_fill_color = "#ffffff"
p.border_fill_color = PAGE_BG
p.outline_line_color = INK
p.outline_line_width = 3

p.xaxis.ticker = FixedTicker(ticks=x_ticks)
p.yaxis.ticker = FixedTicker(ticks=y_ticks)
p.yaxis.major_label_overrides = {t: l for t, l in zip(y_ticks, y_tick_labels)}
p.xaxis.major_label_overrides = {t: str(t) for t in x_ticks}

for ax in (p.xaxis[0], p.yaxis[0]):
    ax.axis_line_color = None
    ax.major_tick_line_color = INK
    ax.major_tick_line_width = 2
    ax.major_tick_out = 9
    ax.major_tick_in = 0
    ax.minor_tick_line_color = None
    ax.major_label_text_font = FONT
    ax.major_label_text_font_size = "29px"
    ax.major_label_text_color = INK
p.yaxis.major_label_standoff = 15
p.xaxis.major_label_standoff = 11

p.grid.grid_line_color = "#cfcfcf"
p.grid.grid_line_width = 2

for data, col in zip(series_data, colors):
    ts = [d[0] for d in data]
    vs = [d[1] for d in data]
    p.line(ts, vs, line_color=col, line_width=2.6)

layout = column(leg, p, spacing=0)

html = file_html(layout, INLINE)
html = html.replace("<head>", "<head><style>body{background:#fafafa;}</style>", 1)
open("out.html", "w").write(html)
